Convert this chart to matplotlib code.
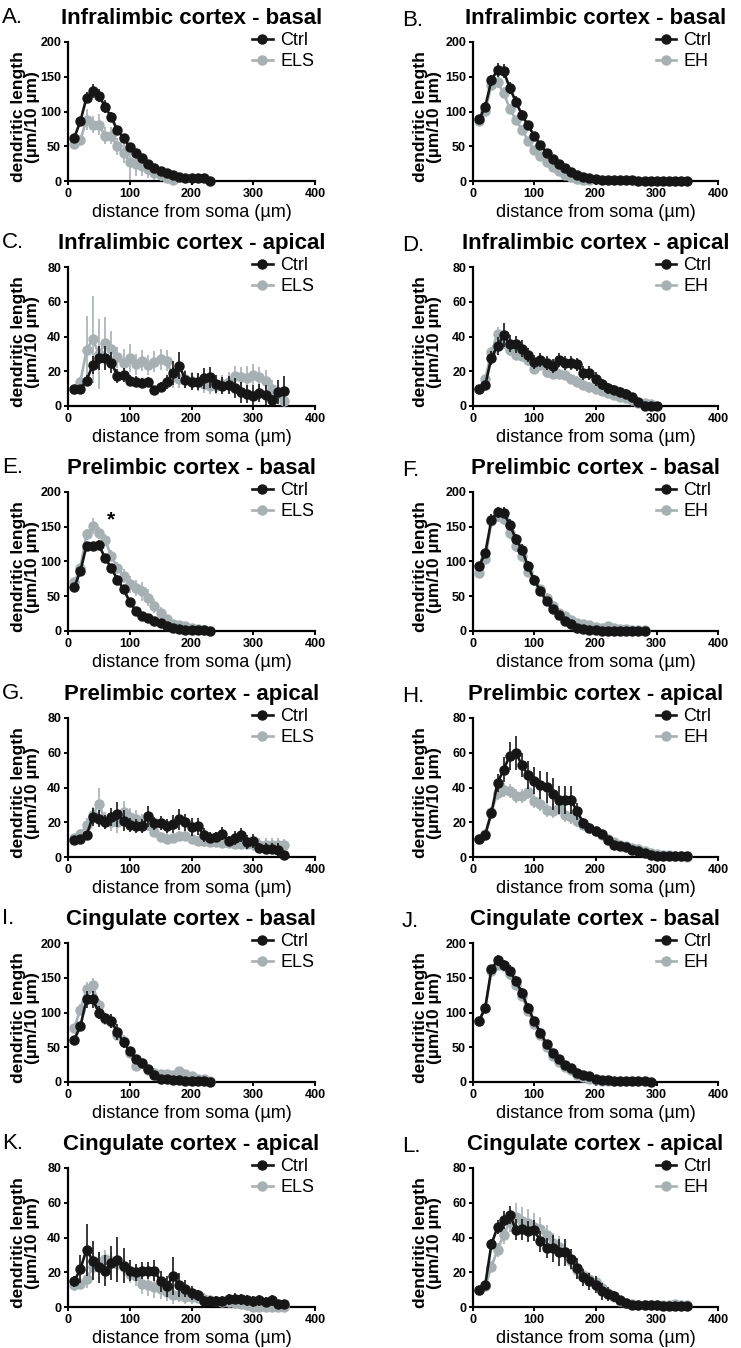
import matplotlib
matplotlib.use('Agg')
import matplotlib.pyplot as plt

plt.rcParams['font.family'] = ['Liberation Sans', 'DejaVu Sans']

W, H = 741, 1348
CTRL_COLOR = '#161616'
TREAT_COLOR = '#a7b0b3'

# distance bins from soma (um)
radius = [10, 20, 30, 40, 50, 60, 70, 80, 90, 100, 110, 120, 130, 140, 150,
          160, 170, 180, 190, 200, 210, 220, 230, 240, 250, 260, 270, 280,
          290, 300, 310, 320, 330, 340, 350]

# A. Infralimbic basal, Ctrl vs ELS
a_ctrl = [62, 86, 120, 129, 123, 107, 92, 73, 62, 49, 40, 33, 24, 18, 14, 11, 9, 6, 4, 4, 4, 4, 0.5]
a_ctrl_err = [5, 6, 8, 10, 10, 9, 7, 6, 5, 6, 5, 5, 4, 3, 3, 3, 3, 2, 2, 2, 2, 2, 1]
a_els = [53, 59, 88, 81, 81, 65, 65, 50, 41, 27, 25, 21, 17, 12, 8, 4, 1]
a_els_err = [5, 6, 15, 12, 15, 12, 12, 12, 15, 25, 18, 14, 12, 10, 8, 5, 3]

# B. Infralimbic basal, Ctrl vs EH
b_ctrl = [89, 107, 145, 160, 158, 134, 114, 95, 80, 65, 52, 41, 32, 24, 19, 13, 9, 6, 4, 2.5,
          1.5, 1, 1, 1, 0.8, 0.8, 0.6, 0.5, 0.5, 0.5, 0.4, 0.4, 0.3, 0.3, 0.2]
b_ctrl_err = [5, 6, 8, 10, 10, 9, 8, 7, 7, 6, 6, 5, 4, 3, 3, 2, 2, 2, 1, 1,
              0.5, 0.5, 0.5, 0.5, 0.5, 0.5, 0.5, 0.5, 0.5, 0.5, 0.5, 0.5, 0.5, 0.5, 0.5]
b_eh = [86, 101, 138, 142, 127, 104, 88, 74, 58, 44, 36, 28, 20, 14, 9, 6, 3, 2, 1]
b_eh_err = [4, 5, 7, 8, 8, 7, 6, 6, 5, 5, 5, 4, 4, 3, 3, 2, 2, 1, 1]

# C. Infralimbic apical, Ctrl vs ELS
c_ctrl = [10, 10, 14.6, 23.6, 27.5, 27.5, 25, 17.5, 18, 14.6, 14, 13.3, 13.7, 9.2, 10.8, 14, 19,
          23.3, 15.2, 14, 14, 16, 16.5, 12.7, 11.7, 12, 10.4, 7.9, 6.9, 6, 7.5, 6.3, 3.5, 7.9, 8.5]
c_ctrl_err = [1, 1, 3, 5, 7, 7, 6, 4, 4, 3, 3, 3, 3, 2, 3, 4, 7, 8, 5, 5, 5, 6, 6, 5, 5, 5,
              6, 6, 5, 6, 5, 6, 3, 7, 9]
c_els = [10, 13.7, 32, 38.5, 30, 36.3, 33, 28, 25, 27.5, 24, 26, 23.6, 25.6, 27, 26, 16.5, 15.6,
         15.6, 14.6, 13.7, 12.7, 11.7, 11.7, 12.7, 13.7, 17, 16.5, 16, 17.9, 16.5, 14.6, 9.8, 6.9, 3]
c_els_err = [1, 3, 20, 25, 20, 15, 10, 6, 8, 8, 6, 6, 6, 6, 6, 6, 6, 5, 5, 5, 5, 5, 5, 5, 5,
             6, 6, 6, 7, 6, 6, 6, 5, 4, 3]

# D. Infralimbic apical, Ctrl vs EH
d_ctrl = [10, 12, 27.7, 34.6, 40.7, 35.9, 35.4, 33, 29.6, 25.5, 26.4, 24.5, 23, 26.4, 25, 24.5,
          23.9, 18.8, 18.8, 15.5, 12.4, 10.1, 9.2, 8.2, 6.9, 5.4, 2.1, 0, 0, 0]
d_ctrl_err = [1, 2, 4, 5, 7, 5, 5, 5, 4, 4, 4, 4, 4, 4, 4, 4, 4, 4, 4, 4, 3, 3, 3, 3, 3, 2, 1,
              0.5, 0.5, 0.5]
d_eh = [10, 15.5, 31, 41.6, 36, 32, 29.6, 28.8, 26.3, 21.4, 23.6, 19.4, 18.5, 18.5, 17.9, 15.5,
        14, 12, 10.7, 9.8, 8.6, 7.3, 6.3, 5.4, 4.4, 3.4, 1.9, 1.5, 1.1]
d_eh_err = [1, 2, 3, 4, 3, 3, 3, 3, 3, 3, 3, 3, 3, 3, 3, 3, 3, 3, 3, 2, 2, 2, 2, 2, 2, 1, 1, 1, 1]

# E. Prelimbic basal, Ctrl vs ELS
e_ctrl = [63, 86, 123, 122, 124, 105, 91, 74, 60, 42, 29, 21.5, 18, 14, 11, 7, 4, 2.4, 1.4, 1,
          1, 1, 0]
e_ctrl_err = [5, 5, 5, 6, 7, 6, 6, 6, 6, 5, 5, 4, 4, 3, 3, 2, 2, 1, 1, 1, 1, 1, 0.5]
e_els = [70, 91, 139, 151, 141, 131, 108, 91, 79, 67, 62, 57, 48, 36, 26, 17, 9.6, 8, 7, 5, 3, 2]
e_els_err = [4, 5, 8, 12, 8, 8, 8, 8, 10, 12, 12, 14, 12, 10, 8, 6, 4, 4, 3, 2, 2, 1]

# F. Prelimbic basal, Ctrl vs EH
f_ctrl = [94, 112, 160, 171, 170, 153, 132, 117, 93, 73, 58, 43, 32, 22.5, 14.4, 9.6, 4.8, 3.3,
          2, 1, 0.5, 0.5, 0.5, 0.5, 0.5, 0.5, 0.5, 0.5]
f_ctrl_err = [5, 6, 8, 8, 8, 8, 8, 8, 7, 7, 6, 5, 5, 4, 3, 3, 2, 2, 1, 1, 0.5, 0.5, 0.5, 0.5,
              0.5, 0.5, 0.5, 0.5]
f_eh = [83, 103, 158, 165, 161, 141, 122, 108, 85, 73, 60, 48, 36, 26, 21, 16, 12, 9.6, 8, 6, 5,
        7, 4, 3, 2.4, 2, 1.4, 1]
f_eh_err = [4, 5, 8, 8, 8, 8, 8, 8, 7, 7, 6, 6, 6, 5, 5, 4, 4, 3, 3, 3, 2, 3, 2, 2, 1, 1, 1, 1]

# G. Prelimbic apical, Ctrl vs ELS
g_ctrl = [10, 10.2, 12.5, 23, 22, 20, 23, 24.5, 21, 18.3, 18, 18, 23.5, 19.3, 19.7, 17.7, 18.9,
          21.6, 20, 17.3, 17.7, 12.9, 11.2, 11.6, 13.5, 9.2, 11, 12.5, 8.7, 9.2, 5.2, 4.8, 4.8,
          3.9, 1]
g_ctrl_err = [1, 1, 2, 5, 5, 4, 5, 7, 6, 4, 4, 4, 6, 4, 4, 4, 5, 6, 5, 5, 5, 4, 3, 3, 4, 3, 4,
              4, 4, 4, 3, 3, 3, 4, 2]
g_els = [11, 13, 18.3, 24, 30.7, 21, 20, 20, 26, 23, 22, 20, 18.7, 14.5, 11.6, 10.6, 11, 12.1,
         12.1, 10.6, 9.2, 9, 8.7, 8.7, 8.3, 8.3, 7.7, 7.7, 7.7, 7.7, 7.1, 6.7, 6.7, 6.7, 7.1]
g_els_err = [2, 3, 4, 5, 9, 5, 5, 6, 6, 5, 5, 5, 4, 3, 3, 3, 3, 3, 3, 3, 3, 3, 3, 3, 3, 3, 3,
             3, 3, 4, 4, 4, 4, 4, 3]

# H. Prelimbic apical, Ctrl vs EH
h_ctrl = [10.5, 12.9, 25.3, 42.6, 50.3, 58.3, 59.9, 52.8, 47, 44, 41.6, 40.1, 36.3, 32.6, 32.6,
          32.6, 26.3, 19.6, 16.7, 15.2, 13.2, 10, 7.1, 6.5, 5.8, 4.2, 3.3, 2.3, 1.3, 0.8, 0.3,
          0.3, 0.3, 0.3, 0.3]
h_ctrl_err = [1, 1, 3, 5, 7, 8, 10, 7, 8, 8, 8, 9, 9, 8, 8, 8, 5, 3, 3, 2, 2, 2, 1, 1, 1, 1, 1,
              1, 0.5, 0.5, 0.5, 0.5, 0.5, 0.5, 0.5]
h_eh = [10.5, 13, 26, 36.9, 38.8, 38.2, 34.9, 34.9, 37.4, 32, 30.5, 27.3, 26.7, 28.2, 24.4,
        22.8, 20.5, 18.6, 16.7, 14.8, 12.9, 10.6, 8.6, 7.1, 6.1, 5.2, 4.6, 3.3, 2.3, 1.7, 1.2,
        1, 0.8, 0.4, 0.2]
h_eh_err = [1, 1, 3, 4, 4, 4, 4, 4, 4, 4, 4, 4, 4, 4, 4, 4, 3, 3, 3, 3, 2, 2, 2, 2, 2, 1, 1, 1,
            1, 1, 1, 0.5, 0.5, 0.5, 0.5]

# I. Cingulate basal, Ctrl vs ELS
i_ctrl = [61, 80, 119, 119, 100, 92, 88, 72, 57, 44.5, 32.5, 27.8, 18.2, 9.6, 3.8, 4.8, 2.4, 2.4,
          1, 1, 1, 1, 0]
i_ctrl_err = [4, 5, 12, 12, 10, 8, 10, 12, 8, 6, 6, 6, 4, 3, 2, 2, 1, 1, 1, 1, 1, 1, 0.5]
i_els = [78, 104, 134, 139, 111, 90, 86, 68, 59, 42, 23, 28, 17, 12.4, 11, 11, 9.6, 15.8, 11,
         8.6, 4.8, 3.8, 2]
i_els_err = [6, 8, 10, 10, 8, 8, 8, 8, 8, 6, 6, 5, 4, 4, 4, 4, 4, 6, 4, 3, 2, 2, 1]

# J. Cingulate basal, Ctrl vs EH
j_ctrl = [88, 107, 162, 175, 168, 160, 145, 128, 106, 88, 71, 55, 42, 33, 24, 20, 13, 10.5, 8,
          4.8, 3.3, 2.4, 1.5, 1.2, 1, 1, 1, 0.8, 0.5]
j_ctrl_err = [4, 5, 6, 8, 8, 8, 7, 7, 7, 6, 6, 5, 5, 4, 4, 3, 3, 2, 2, 1, 1, 1, 0.5, 0.5, 0.5,
              0.5, 0.5, 0.5, 0.5]
j_eh = [88, 107, 160, 169, 167, 155, 140, 124, 102, 83, 67, 50, 38, 29, 21, 17, 10.5, 7, 5, 3.3,
        2, 1]
j_eh_err = [4, 5, 6, 8, 8, 8, 7, 7, 7, 6, 6, 5, 5, 4, 4, 3, 3, 2, 2, 1, 1, 1]

# K. Cingulate apical, Ctrl vs ELS
k_ctrl = [14.7, 21.9, 33, 26.7, 22.9, 21, 25.3, 27.2, 23.8, 21, 20, 21, 21, 21, 14.7, 12, 17.7,
          12.8, 10.5, 8.2, 6.7, 3.4, 3.4, 3.2, 3.4, 4.4, 4.8, 4.4, 3.8, 3.2, 3.8, 2.9, 3.8, 1.9,
          1.9]
k_ctrl_err = [3, 8, 15, 11, 9, 9, 10, 13, 10, 6, 5, 5, 5, 6, 6, 6, 11, 7, 5, 4, 3, 3, 3, 3, 3,
              3, 3, 3, 3, 3, 3, 3, 3, 2, 2]
k_els = [12.4, 13.3, 16.2, 22.9, 26.1, 27.6, 26.7, 24.8, 22.9, 19, 18, 13.3, 12.4, 11.4, 10.5,
         8.6, 7, 6.7, 5.7, 5.7, 5.1, 4.8, 3.8, 3.2, 2.9, 2.9, 2.5, 1.9, 1.3, 0, 0, 0, 0, 0, 0]
k_els_err = [3, 3, 5, 5, 5, 5, 5, 5, 5, 5, 6, 6, 6, 6, 6, 5, 5, 4, 4, 4, 3, 3, 3, 3, 3, 3, 3, 3,
             3, 2, 2, 2, 2, 2, 2]

# L. Cingulate apical, Ctrl vs EH
l_ctrl = [9.9, 12.8, 36, 46, 50, 53, 44.6, 44.8, 43.6, 44.2, 37.9, 34, 33.7, 31.4, 31.4, 27.6,
          22.3, 17, 14.7, 12.8, 9, 7.4, 6.1, 3.8, 2.3, 1.3, 1.1, 1, 1, 1, 0.8, 0.7, 0.5, 0.3,
          0.3]
l_ctrl_err = [1, 1, 3, 4, 5, 5, 6, 6, 6, 6, 6, 6, 8, 8, 8, 6, 6, 5, 5, 5, 5, 4, 3, 2, 1, 1, 1,
              0.5, 0.5, 0.5, 0.5, 0.5, 0.5, 0.5, 0.5]
l_eh = [9.9, 11.8, 23.2, 32.8, 41.3, 49, 51.8, 49.3, 48.6, 46, 45, 41.3, 36.6, 34.7, 31.8, 26.5,
        21.3, 18.5, 16.2, 14.3, 11.2, 8, 5.5, 3.6, 2.3, 1.5, 1.2, 1, 1, 1, 1, 1.2, 1.5, 1.2, 1]
l_eh_err = [1, 1, 3, 4, 5, 6, 8, 8, 8, 8, 7, 6, 6, 6, 5, 5, 5, 4, 4, 3, 3, 2, 2, 2, 1, 1, 1, 1,
            1, 1, 1, 1, 1, 1, 1]

panels = [
    ('A.', 'Infralimbic cortex - basal', a_ctrl, a_ctrl_err, a_els, a_els_err, 'ELS', 200),
    ('B.', 'Infralimbic cortex - basal', b_ctrl, b_ctrl_err, b_eh, b_eh_err, 'EH', 200),
    ('C.', 'Infralimbic cortex - apical', c_ctrl, c_ctrl_err, c_els, c_els_err, 'ELS', 80),
    ('D.', 'Infralimbic cortex - apical', d_ctrl, d_ctrl_err, d_eh, d_eh_err, 'EH', 80),
    ('E.', 'Prelimbic cortex - basal', e_ctrl, e_ctrl_err, e_els, e_els_err, 'ELS', 200),
    ('F.', 'Prelimbic cortex - basal', f_ctrl, f_ctrl_err, f_eh, f_eh_err, 'EH', 200),
    ('G.', 'Prelimbic cortex - apical', g_ctrl, g_ctrl_err, g_els, g_els_err, 'ELS', 80),
    ('H.', 'Prelimbic cortex - apical', h_ctrl, h_ctrl_err, h_eh, h_eh_err, 'EH', 80),
    ('I.', 'Cingulate cortex - basal', i_ctrl, i_ctrl_err, i_els, i_els_err, 'ELS', 200),
    ('J.', 'Cingulate cortex - basal', j_ctrl, j_ctrl_err, j_eh, j_eh_err, 'EH', 200),
    ('K.', 'Cingulate cortex - apical', k_ctrl, k_ctrl_err, k_els, k_els_err, 'ELS', 80),
    ('L.', 'Cingulate cortex - apical', l_ctrl, l_ctrl_err, l_eh, l_eh_err, 'EH', 80),
]

# layout in pixels
col_left = [68, 473]
col_width = [247, 245]
row_top = [42, 267, 492, 718, 943, 1168]
ax_height = 139


def px_rect(left, top, w, h):
    return [left / W, 1 - (top + h) / H, w / W, h / H]


def draw_series(ax, values, err, color, zorder):
    xs = radius[:len(values)]
    low = [min(e, v) for v, e in zip(values, err)]
    cont = ax.errorbar(xs, values, yerr=[low, err], color=color, marker='o', ms=6.5,
                       lw=1.9, elinewidth=1.2, capsize=0, zorder=zorder)
    cont[0].set_clip_on(False)
    return cont[0]


fig = plt.figure(figsize=(W / 100, H / 100), dpi=100)

for idx, (letter, title, ctrl, ctrl_err, treat, treat_err, treat_name, ymax) in enumerate(panels):
    col = idx % 2
    row = idx // 2
    ax = fig.add_axes(px_rect(col_left[col], row_top[row], col_width[col], ax_height))

    h_treat = draw_series(ax, treat, treat_err, TREAT_COLOR, 3)
    h_ctrl = draw_series(ax, ctrl, ctrl_err, CTRL_COLOR, 4)

    ax.set_xlim(0, 400)
    ax.set_ylim(0, ymax)
    ax.set_xticks([0, 100, 200, 300, 400])
    ax.set_yticks(range(0, ymax + 1, ymax // 4))
    for side in ['top', 'right']:
        ax.spines[side].set_visible(False)
    for side in ['left', 'bottom']:
        ax.spines[side].set_linewidth(1.6)
    ax.tick_params(direction='out', length=3, width=1.4, labelsize=9, pad=2)
    for lbl in ax.get_xticklabels() + ax.get_yticklabels():
        lbl.set_fontweight('bold')

    ax.set_xlabel('distance from soma (µm)', fontsize=13, labelpad=3)
    ax.set_ylabel('dendritic length\n(µm/10 µm)', fontsize=12.5, fontweight='bold',
                  linespacing=0.95)
    ax.yaxis.set_label_coords(-0.112 if col == 0 else -0.126, 0.46)
    ax.set_title(title, fontsize=16, fontweight='bold', pad=13)

    ax.legend([h_ctrl, h_treat], ['Ctrl', treat_name], loc='upper left',
              bbox_to_anchor=(0.745, 1.07), frameon=False, fontsize=13,
              handlelength=1.15, handletextpad=0.4, labelspacing=0.2, borderpad=0,
              borderaxespad=0)

    letter_x = 2 if col == 0 else 402
    letter_y = row_top[row] - (19 if col == 0 else 16)
    fig.text(letter_x / W, 1 - letter_y / H, letter, fontsize=16, va='baseline', ha='left')

    if letter == 'E.':
        ax.text(70, 160, '*', fontsize=15, fontweight='bold', ha='center', va='center')

fig.savefig('out.png', dpi=100)
